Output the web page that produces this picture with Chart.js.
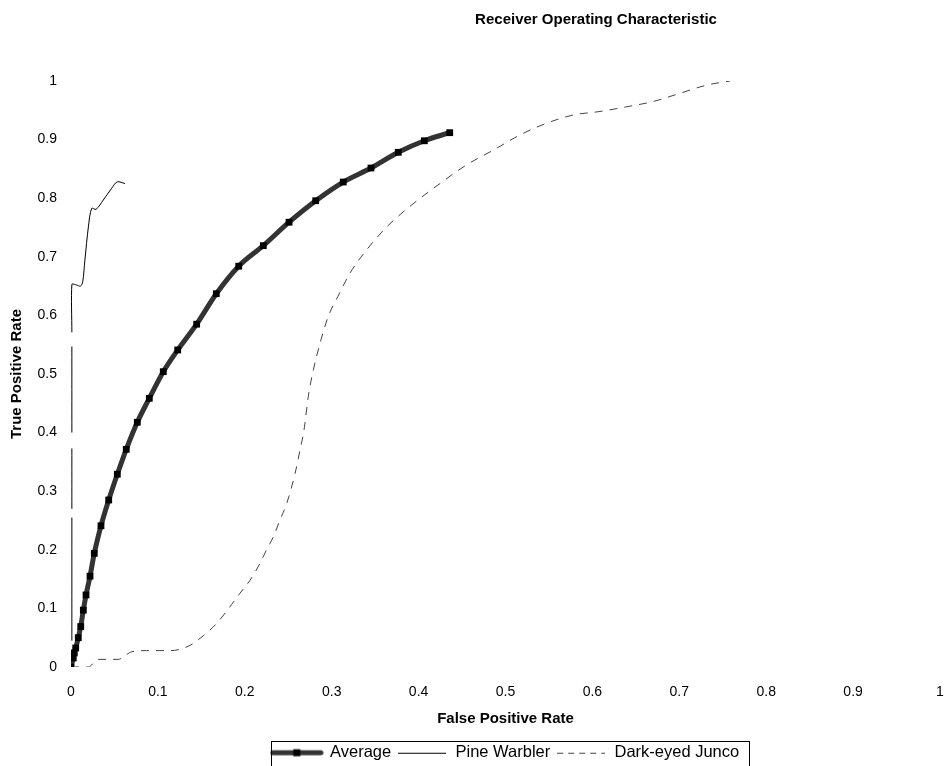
<!DOCTYPE html>
<html>
<head>
<meta charset="utf-8">
<script src="https://cdn.jsdelivr.net/npm/chart.js@4/dist/chart.umd.min.js"></script>
<style>
  html, body { margin: 0; padding: 0; background: #fff; overflow: hidden; }
  #wrap { width: 946px; height: 771px; position: relative; }
</style>
</head>
<body>
<div id="wrap"><canvas id="c"></canvas></div>
<script>
// ---- Data ----
const seriesNames = ['Average', 'Pine Warbler', 'Dark-eyed Junco'];

const avgFPR = [0, 0.0026, 0.0038, 0.0054, 0.0084, 0.0112, 0.0142, 0.0173, 0.0219, 0.0268, 0.0345, 0.0434, 0.0533, 0.0636, 0.0763, 0.0901, 0.1062, 0.1228, 0.1446, 0.1672, 0.193, 0.2213, 0.2509, 0.2816, 0.3133, 0.3452, 0.3766, 0.4066, 0.4358];
const avgTPR = [0, 0.0154, 0.024, 0.0324, 0.050, 0.069, 0.097, 0.123, 0.155, 0.194, 0.241, 0.285, 0.329, 0.3715, 0.4176, 0.4585, 0.504, 0.541, 0.585, 0.637, 0.684, 0.719, 0.759, 0.7957, 0.8276, 0.8515, 0.8783, 0.898, 0.9118];

const pineFPR = [0.001, 0.001, 0.001, 0.001, 0.001, 0.001, 0.001, 0.001, 0.001, 0.001, 0.001, 0.006, 0.011, 0.0135, 0.016, 0.020, 0.0238, 0.0288, 0.0372, 0.0468, 0.0533, 0.0621];
const pineTPR = [0.045, 0.255, null, 0.27, 0.373, null, 0.40, 0.547, null, 0.571, 0.653, 0.652, 0.650, 0.6575, 0.6945, 0.751, 0.7827, 0.781, 0.797, 0.817, 0.828, 0.825];

const juncoFPR = [0, 0.02, 0.031, 0.054, 0.07, 0.087, 0.114, 0.125, 0.137, 0.152, 0.168, 0.185, 0.1945, 0.206, 0.2175, 0.225, 0.2328, 0.2405, 0.2482, 0.2578, 0.2635, 0.2681, 0.273, 0.2789, 0.2865, 0.296, 0.307, 0.321, 0.3403, 0.3633, 0.39, 0.4246, 0.4553, 0.486, 0.5167, 0.5474, 0.578, 0.6087, 0.6394, 0.67, 0.7008, 0.7315, 0.7583];
const juncoTPR = [0, 0, 0.013, 0.013, 0.026, 0.028, 0.028, 0.030, 0.037, 0.053, 0.075, 0.107, 0.126, 0.148, 0.177, 0.200, 0.222, 0.251, 0.279, 0.330, 0.370, 0.404, 0.461, 0.507, 0.552, 0.598, 0.632, 0.672, 0.712, 0.751, 0.786, 0.825, 0.857, 0.882, 0.908, 0.928, 0.942, 0.948, 0.956, 0.965, 0.979, 0.993, 1.0];

const toPts = (xs, ys) => xs.map((x, i) => ({ x: x, y: ys[i] }));
const fmtTick = (v) => String(Number(Number(v).toFixed(1)));

// ---- Legend icons ----
function icon(w, h, draw) {
  const c = document.createElement('canvas');
  c.width = w; c.height = h;
  const g = c.getContext('2d');
  draw(g, w, h);
  return c;
}
const iconAvg = icon(54, 12, (g, w, h) => {
  g.strokeStyle = '#333'; g.lineWidth = 5; g.lineCap = 'round';
  g.beginPath(); g.moveTo(3, h / 2); g.lineTo(w - 3, h / 2); g.stroke();
  g.fillStyle = '#000'; g.fillRect(w / 2 - 3.5, h / 2 - 3.5, 7, 7);
});
const iconPine = icon(48, 12, (g, w, h) => {
  g.strokeStyle = '#000'; g.lineWidth = 1;
  g.beginPath(); g.moveTo(0, h / 2 + 0.5); g.lineTo(w, h / 2 + 0.5); g.stroke();
});
const iconJunco = icon(48, 12, (g, w, h) => {
  g.strokeStyle = '#444'; g.lineWidth = 1; g.setLineDash([6, 5]);
  g.beginPath(); g.moveTo(0, h / 2 + 0.5); g.lineTo(w, h / 2 + 0.5); g.stroke();
});
const legendIcons = [iconAvg, iconPine, iconJunco];

const FONT = "'Liberation Sans', Arial, sans-serif";

const titleShift = {
  id: 'titleShift',
  afterLayout(chart) {
    const t = chart.titleBlock;
    if (t) { t.left = 252; t.width = t.right - t.left; }
  }
};

const legendBorder = {
  id: 'legendBorder',
  afterDraw(chart) {
    const lg = chart.legend;
    if (!lg || !lg.legendHitBoxes || !lg.legendHitBoxes.length) return;
    const hb = lg.legendHitBoxes;
    const first = hb[0], last = hb[hb.length - 1];
    const l = Math.round(first.left - 1) + 0.5;
    const r = Math.round(last.left + last.width + 10) + 0.5;
    const t = Math.round(first.top - 4) + 0.5;
    const b = Math.round(first.top + first.height + 6) + 0.5;
    const ctx = chart.ctx;
    ctx.save();
    ctx.strokeStyle = '#000'; ctx.lineWidth = 1;
    ctx.strokeRect(l, t, r - l, b - t);
    ctx.restore();
  }
};

new Chart(document.getElementById('c'), {
  type: 'line',
  data: {
    datasets: [
      {
        label: seriesNames[0],
        data: toPts(avgFPR, avgTPR),
        borderColor: '#333333',
        borderWidth: 5,
        pointStyle: 'rect',
        pointRadius: 4.8,
        pointBackgroundColor: '#000',
        pointBorderWidth: 0,
        cubicInterpolationMode: 'monotone'
      },
      {
        label: seriesNames[1],
        data: toPts(pineFPR, pineTPR),
        borderColor: '#000',
        borderWidth: 1,
        pointRadius: 0,
        tension: 0.3,
        spanGaps: false
      },
      {
        label: seriesNames[2],
        data: toPts(juncoFPR, juncoTPR),
        borderColor: '#444',
        borderWidth: 1,
        borderDash: [8, 7],
        pointRadius: 0,
        cubicInterpolationMode: 'monotone'
      }
    ]
  },
  options: {
    responsive: true,
    maintainAspectRatio: false,
    animation: false,
    events: [],
    layout: { padding: { left: 0, right: 6, top: 0, bottom: 0 } },
    plugins: {
      title: {
        display: true,
        text: 'Receiver Operating Characteristic',
        color: '#000',
        font: { family: FONT, size: 15, weight: 'bold' },
        padding: { top: 11, bottom: 52 }
      },
      legend: {
        display: true,
        position: 'bottom',
        fullSize: false,
        labels: {
          usePointStyle: true,
          pointStyleWidth: 50,
          boxHeight: 12,
          padding: 6,
          color: '#000',
          font: { family: FONT, size: 16.5 },
          generateLabels: (chart) => chart.data.datasets.map((ds, i) => ({
            text: ds.label,
            pointStyle: legendIcons[i],
            datasetIndex: i,
            hidden: false,
            lineWidth: 0,
            strokeStyle: 'rgba(0,0,0,0)',
            fillStyle: 'rgba(0,0,0,0)',
            fontColor: '#000'
          }))
        }
      },
      tooltip: { enabled: false }
    },
    scales: {
      x: {
        type: 'linear',
        min: 0, max: 1,
        grid: { display: false, drawTicks: false },
        border: { display: false },
        ticks: { stepSize: 0.1, color: '#000', padding: 17, font: { family: FONT, size: 14 }, callback: fmtTick },
        title: {
          display: true, text: 'False Positive Rate', color: '#000',
          font: { family: FONT, size: 15, weight: 'bold' },
          padding: { top: 0, bottom: 11 }
        },
        afterFit(s) { s.height = 71.5; s.paddingLeft = 0; s.paddingRight = 0; }
      },
      y: {
        type: 'linear',
        min: 0, max: 1,
        grid: { display: false, drawTicks: false },
        border: { display: false },
        ticks: { stepSize: 0.1, color: '#000', padding: 14, font: { family: FONT, size: 14 }, callback: fmtTick },
        title: {
          display: true, text: 'True Positive Rate', color: '#000',
          font: { family: FONT, size: 15, weight: 'bold' },
          padding: { top: 8, bottom: 0 }
        },
        afterFit(s) { s.width = 71; s.paddingTop = 0; s.paddingBottom = 0; }
      }
    }
  },
  plugins: [titleShift, legendBorder]
});
</script>
</body>
</html>
